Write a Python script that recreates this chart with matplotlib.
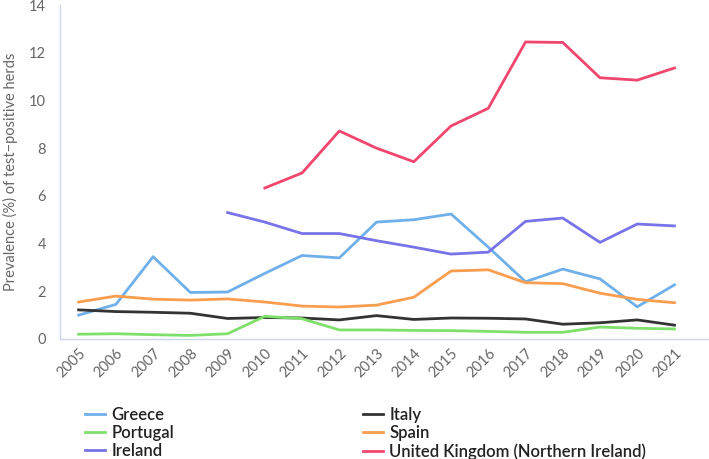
import matplotlib
matplotlib.use("Agg")
import matplotlib.pyplot as plt
import numpy as np

years = list(range(2005, 2022))
greece = [1.0, 1.45, 3.45, 1.95, 1.97, 2.75, 3.5, 3.4, 4.9, 5.0, 5.24, 3.85, 2.4, 2.93, 2.52, 1.35, 2.27]
italy = [1.22, 1.15, 1.12, 1.08, 0.86, 0.9, 0.88, 0.8, 0.98, 0.82, 0.88, 0.87, 0.84, 0.62, 0.68, 0.8, 0.58]
portugal = [0.2, 0.22, 0.18, 0.15, 0.22, 0.95, 0.85, 0.38, 0.38, 0.36, 0.35, 0.32, 0.28, 0.28, 0.5, 0.45, 0.42]
spain = [1.55, 1.8, 1.67, 1.63, 1.68, 1.55, 1.38, 1.34, 1.42, 1.75, 2.85, 2.9, 2.36, 2.32, 1.92, 1.66, 1.52]
ireland = [None, None, None, None, 5.3, 4.9, 4.42, 4.42, 4.12, 3.85, 3.56, 3.64, 4.93, 5.07, 4.05, 4.82, 4.74]
uk = [None] * 5 + [6.33, 6.96, 8.72, 8.0, 7.43, 8.93, 9.67, 12.45, 12.43, 10.95, 10.85, 11.36]

labels = ["Greece", "Italy", "Portugal", "Spain", "Ireland", "United Kingdom (Northern Ireland)"]
colors = ["#6fb0ea", "#333333", "#7ee06b", "#f99d4f", "#7873e8", "#f0466e"]
series = [greece, italy, portugal, spain, ireland, uk]

plt.rcParams['font.family'] = ['Lato', 'DejaVu Sans']

fig = plt.figure(figsize=(7.09, 4.59), dpi=100)
ax = fig.add_axes([60/709, 1-339/459, 648/709, 334/459])

for vals, lab, col in zip(series, labels, colors):
    y = np.array([np.nan if v is None else v for v in vals], dtype=float)
    ax.plot(years, y, color=col, lw=2.0, label=lab)

ax.set_ylim(0, 14)
ax.set_yticks(range(0, 15, 2))
ax.set_xlim(2004.5, 2021.9)
ax.set_xticks(years)
ax.set_xticklabels([str(y) for y in years], rotation=45, ha='right', rotation_mode='anchor')
ax.tick_params(length=0, labelsize=10.5, colors='#666666', pad=10)
ax.tick_params(axis='x', pad=5)
for s in ['top', 'right']:
    ax.spines[s].set_visible(False)
for s in ['left', 'bottom']:
    ax.spines[s].set_color('#ccd6eb')
    ax.spines[s].set_linewidth(1)
ax.set_ylabel("Prevalence (%) of test\u2212positive herds", fontsize=10.5, color='#666666', labelpad=8)

handles, labs = ax.get_legend_handles_labels()
order = [0, 2, 4, 1, 3, 5]
leg = fig.legend([handles[i] for i in order], [labs[i] for i in order], ncol=2,
                 loc='upper left', bbox_to_anchor=(85/709, 1-407/459), frameon=False,
                 fontsize=12, handlelength=1.2, handletextpad=0.4, columnspacing=11.3,
                 labelspacing=0.12, borderpad=0, borderaxespad=0)
for t in leg.get_texts():
    t.set_color('#222222')
    t.set_fontweight('semibold')

fig.savefig("out.png", dpi=100)
